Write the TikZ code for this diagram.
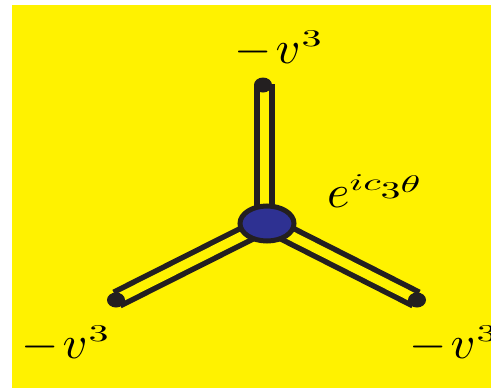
\documentclass[tikz,border=0pt]{standalone}
\usetikzlibrary{shapes.geometric}
\definecolor{bgyellow}{RGB}{255,242,0}
\definecolor{ink}{RGB}{35,31,32}
\definecolor{vblue}{RGB}{46,49,146}
\newcommand{\mainpart}[1]{\scalebox{4.8}[4.6]{$#1$}}
\newcommand{\suppart}[2]{\raisebox{#1}{\scalebox{4.0}[2.4]{$#2$}}}
\newcommand{\mvlabel}{\mainpart{-}\hspace{4pt}\mainpart{v}\hspace{1pt}\suppart{17pt}{3}}
\begin{document}
\begin{tikzpicture}[x=1pt,y=-1pt,
  arm/.style={draw=ink, line width=5.5pt, double=bgyellow, double distance=9.5pt},
  enddot/.style={ellipse, fill=ink, minimum width=18pt, minimum height=15pt, inner sep=0pt},
  vertex/.style={ellipse, draw=ink, line width=5pt, fill=vblue, minimum width=54pt, minimum height=35pt, inner sep=0pt},
  lab/.style={inner sep=0pt, text=black}]
\useasboundingbox (0,0) rectangle (491,389);
\fill[bgyellow] (12,5) rectangle (500,388);
\coordinate (c) at (267,223.5);
\coordinate (t) at (264.5,84);
\coordinate (l) at (117,299);
\coordinate (r) at (416,299);
\draw[arm] (t |- c) -- (t);
\draw[arm] (c) -- (l);
\draw[arm] (c) -- (r);
\node[vertex] (v) at (c) {};
\node[enddot] (td) at (263,85) {};
\node[enddot] (ld) at (116,300) {};
\node[enddot] (rd) at (417,300) {};
\node[lab, anchor=base west] (tl) at (234,63) {\mvlabel};
\node[lab, anchor=base west] (el) at (327,207) {\mainpart{e}\suppart{17pt}{ic}\suppart{9pt}{3}\suppart{15pt}{\theta}};
\node[lab, anchor=base west] (bl) at (21,358) {\mvlabel};
\node[lab, anchor=base west] (br) at (409,358) {\mvlabel};
\end{tikzpicture}
\end{document}
